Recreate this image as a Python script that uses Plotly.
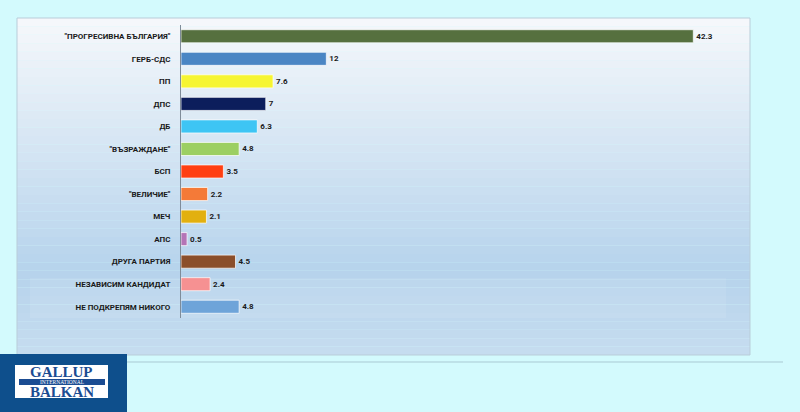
import plotly.graph_objects as go

parties = ['"ПРОГРЕСИВНА БЪЛГАРИЯ"', "ГЕРБ-СДС", "ПП", "ДПС", "ДБ", '"ВЪЗРАЖДАНЕ"', "БСП",
           '"ВЕЛИЧИЕ"', "МЕЧ", "АПС", "ДРУГА ПАРТИЯ", "НЕЗАВИСИМ КАНДИДАТ", "НЕ ПОДКРЕПЯМ НИКОГО"]
values = [42.3, 12, 7.6, 7, 6.3, 4.8, 3.5, 2.2, 2.1, 0.5, 4.5, 2.4, 4.8]
colors = ["#56703F", "#4A86C4", "#F6F532", "#0C1E5C", "#3EC5F4", "#9CCF62", "#FF3F12",
          "#F47A38", "#E2B00F", "#B474B6", "#8B4E2A", "#F69192", "#6EA4D9"]

# pixel geometry of plot area
L, R, T, B = 181, 726, 25, 318
W, H = R - L, B - T
def px(x): return (x - L) / W
def py(y): return (B - y) / H

def lerp(c1, c2, t):
    a = [int(c1[i:i+2], 16) for i in (1, 3, 5)]
    b = [int(c2[i:i+2], 16) for i in (1, 3, 5)]
    return "rgb(%d,%d,%d)" % tuple(round(a[k] + (b[k] - a[k]) * t) for k in range(3))

shapes = []
# panel gradient
top, bot = 18, 355
n = 40
stops = [(0.0, "#F6F8FB"), (0.75, "#B6D3EC"), (1.0, "#C6DCEF")]
for i in range(n):
    y0 = top + (bot - top) * i / n
    y1 = top + (bot - top) * (i + 1) / n
    t = (i + 0.5) / n
    for j in range(len(stops) - 1):
        if stops[j][0] <= t <= stops[j+1][0]:
            tt = (t - stops[j][0]) / (stops[j+1][0] - stops[j][0])
            c = lerp(stops[j][1], stops[j+1][1], tt)
    shapes.append(dict(type="rect", xref="paper", yref="paper", layer="below",
                       x0=px(17), x1=px(750), y0=py(y1), y1=py(y0),
                       fillcolor=c, line=dict(width=0)))
shapes.append(dict(type="rect", xref="paper", yref="paper", layer="below",
                   x0=px(17), x1=px(750), y0=py(bot), y1=py(top),
                   fillcolor="rgba(0,0,0,0)", line=dict(color="#B9CDD9", width=1)))
# lighter band
shapes.append(dict(type="rect", xref="paper", yref="paper", layer="below",
                   x0=px(30), x1=px(726), y0=py(318), y1=py(278),
                   fillcolor="rgba(255,255,255,0.08)", line=dict(width=0)))
# separator line
shapes.append(dict(type="line", xref="paper", yref="paper",
                   x0=px(127), x1=px(783), y0=py(362), y1=py(362),
                   line=dict(color="#A9C9D3", width=1)))
# logo
shapes.append(dict(type="rect", xref="paper", yref="paper",
                   x0=px(0), x1=px(127), y0=py(412), y1=py(354),
                   fillcolor="#0E4F8C", line=dict(width=0)))
shapes.append(dict(type="rect", xref="paper", yref="paper",
                   x0=px(15), x1=px(108), y0=py(398), y1=py(365),
                   fillcolor="#FFFFFF", line=dict(width=0)))
shapes.append(dict(type="rect", xref="paper", yref="paper",
                   x0=px(19), x1=px(105), y0=py(385), y1=py(379),
                   fillcolor="#1B4C92", line=dict(width=0)))

annotations = [
    dict(text="GALLUP", x=px(61), y=py(372), xref="paper", yref="paper", showarrow=False,
         font=dict(family="Liberation Serif", size=15, color="#1B4C92", weight="bold"),
         xanchor="center", yanchor="middle", borderpad=0),
    dict(text="INTERNATIONAL", x=px(62), y=py(381.8), xref="paper", yref="paper", showarrow=False,
         font=dict(family="Liberation Serif", size=5.5, color="#FFFFFF"),
         xanchor="center", yanchor="middle", borderpad=0),
    dict(text="BALKAN", x=px(62), y=py(392), xref="paper", yref="paper", showarrow=False,
         font=dict(family="Liberation Serif", size=15, color="#1B4C92", weight="bold"),
         xanchor="center", yanchor="middle", borderpad=0),
]

fig = go.Figure(go.Bar(
    x=values, y=parties, orientation="h",
    marker=dict(color=colors, line=dict(color="rgba(255,255,255,0.7)", width=1)),
    text=values, texttemplate="%{x}", textposition="outside", cliponaxis=False,
    textfont=dict(family="Roboto", size=8, color="#1A1A1A", weight="bold"),
    hoverinfo="skip",
))
fig.update_layout(
    width=800, height=412,
    margin=dict(l=L, r=800 - R, t=T, b=412 - B),
    paper_bgcolor="#D3FAFD", plot_bgcolor="rgba(0,0,0,0)",
    bargap=0.42, showlegend=False,
    shapes=shapes, annotations=annotations,
)
fig.update_xaxes(range=[0, 45], showgrid=False, zeroline=False, showticklabels=False,
                 showline=False)
fig.update_yaxes(autorange="reversed", showgrid=False, showline=True, linecolor="#7F8C99",
                 linewidth=1, ticks="", ticklabelstandoff=8,
                 tickfont=dict(family="Roboto", size=8, color="#1A1A1A", weight="bold"))
fig.write_html("out.html", config={"displayModeBar": False},
               post_script="document.body.style.margin='0';document.body.style.overflow='hidden';")
